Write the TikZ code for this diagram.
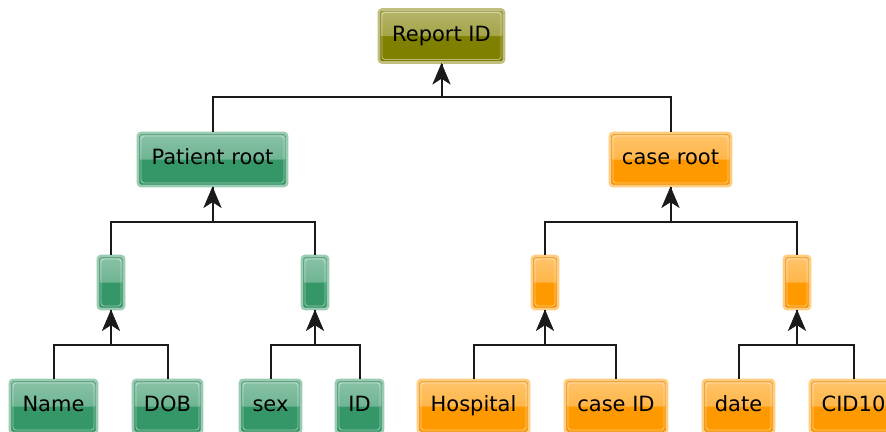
\documentclass[tikz,border=0pt]{standalone}
\usepackage{fontspec}
\setmainfont{DejaVu Sans}
\usetikzlibrary{arrows.meta}
\definecolor{gbase}{HTML}{359767}
\definecolor{obase}{HTML}{808000}
\definecolor{rbase}{HTML}{FF9900}
\definecolor{linec}{HTML}{1A1A1A}
\tikzset{
  gloss/.style={fill=#1, draw=#1!50!white, line width=2.6pt, rounded corners=3pt,
    inner sep=0pt, minimum height=53pt, text height=15pt, text depth=4.5pt,
    font=\fontsize{21}{25}\selectfont, text=black,
    path picture={
      \fill[top color=#1!58!white, bottom color=#1!85!white]
        (path picture bounding box.north west) rectangle (path picture bounding box.east);
      \draw[#1!80!black, line width=0.6pt]
        ([shift={(1.2pt,-1.2pt)}]path picture bounding box.north west) rectangle
        ([shift={(-1.2pt,1.2pt)}]path picture bounding box.south east);
      \draw[white, opacity=0.45, line width=0.9pt]
        ([shift={(3pt,-3pt)}]path picture bounding box.north west) rectangle
        ([shift={(-3pt,3pt)}]path picture bounding box.south east);
    }},
  gbox/.style={gloss=gbase},
  obox/.style={gloss=obase},
  rbox/.style={gloss=rbase},
  conn/.style={line width=2pt, draw=linec},
  uparr/.style={line width=2pt, draw=linec},
  headfill/.style={fill=linec, draw=linec, line width=0.6pt, line join=miter},
}
\newcommand\myuphead[1]{\filldraw[headfill] (#1) -- ++(-8.5,-20) -- ++(8.5,5.5) -- ++(8.5,-5.5) -- cycle;}
\begin{document}
\begin{tikzpicture}[x=1pt,y=1pt]
\useasboundingbox (0,0) rectangle (886,-431);
% nodes
\node[obox, minimum width=125pt] (report) at (441.5,-36) {Report ID};
\node[gbox, minimum width=149pt] (proot) at (212.5,-159.5) {Patient root};
\node[rbox, minimum width=121pt] (croot) at (670.5,-159.5) {case root};
\node[gbox, minimum width=26pt] (s1) at (111,-282.5) {};
\node[gbox, minimum width=26pt] (s2) at (315,-282.5) {};
\node[rbox, minimum width=26pt] (s3) at (545,-282.5) {};
\node[rbox, minimum width=26pt] (s4) at (797,-282.5) {};
\node[gbox, minimum width=87pt] (name) at (53.5,-406.5) {Name};
\node[gbox, minimum width=69pt] (dob) at (167.5,-406.5) {DOB};
\node[gbox, minimum width=61pt] (sex) at (270.5,-406.5) {sex};
\node[gbox, minimum width=47pt] (id) at (359.5,-406.5) {ID};
\node[rbox, minimum width=111pt] (hosp) at (473.5,-406.5) {Hospital};
\node[rbox, minimum width=102pt] (caseid) at (616,-406.5) {case ID};
\node[rbox, minimum width=71pt] (date) at (738.5,-406.5) {date};
\node[rbox, minimum width=87pt] (cid) at (853.5,-406.5) {CID10};
% junctions
\coordinate (j0) at (report.south |- 0,-97);
\coordinate (jp) at (proot.south |- 0,-222);
\coordinate (jc) at (croot.south |- 0,-222);
\coordinate (j1) at (s1.south |- 0,-345);
\coordinate (j2) at (s2.south |- 0,-345);
\coordinate (j3) at (s3.south |- 0,-345);
\coordinate (j4) at (s4.south |- 0,-345);
% connectors
\draw[conn] (proot.north) |- (j0) -| (croot.north);
\draw[uparr] (j0) -- (report.south);
\draw[conn] (s1.north) |- (jp) -| (s2.north);
\draw[uparr] (jp) -- (proot.south);
\draw[conn] (s3.north) |- (jc) -| (s4.north);
\draw[uparr] (jc) -- (croot.south);
\draw[conn] (name.north) |- (j1) -| (dob.north);
\draw[uparr] (j1) -- (s1.south);
\draw[conn] (sex.north) |- (j2) -| (id.north);
\draw[uparr] (j2) -- (s2.south);
\draw[conn] (hosp.north) |- (j3) -| (caseid.north);
\draw[uparr] (j3) -- (s3.south);
\draw[conn] (date.north) |- (j4) -| (cid.north);
\draw[uparr] (j4) -- (s4.south);
% arrowheads
\myuphead{report.south}
\myuphead{proot.south}
\myuphead{croot.south}
\myuphead{s1.south}
\myuphead{s2.south}
\myuphead{s3.south}
\myuphead{s4.south}
\end{tikzpicture}
\end{document}
